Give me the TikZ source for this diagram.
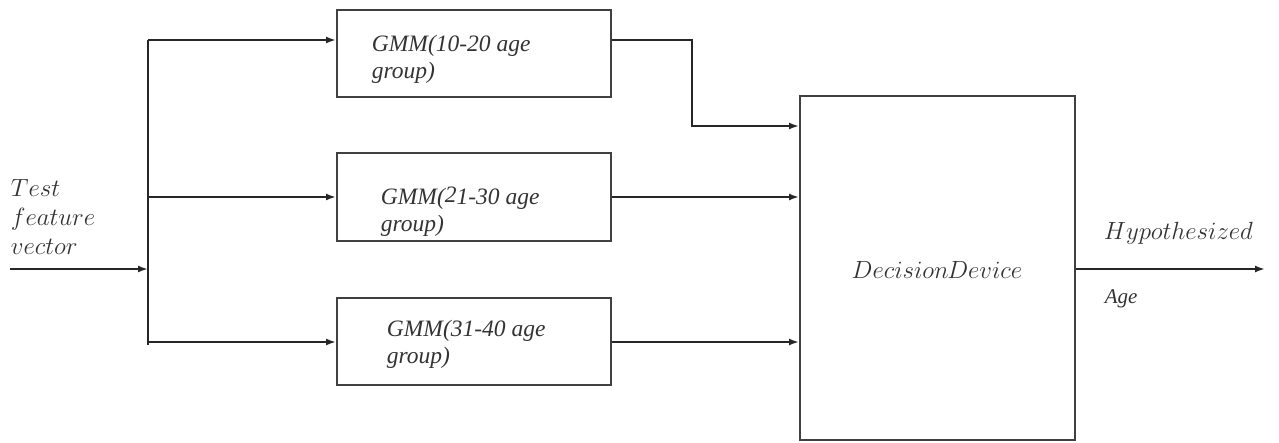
\documentclass[tikz,border=0pt]{standalone}
\usepackage{fontspec}
\newfontfamily\tnr{Liberation Serif}
\usetikzlibrary{arrows.meta}
\begin{document}
\begin{tikzpicture}[x=1pt,y=-1pt,
  line width=1.8pt, draw=black!85,
  blk/.style={draw=black!75,line width=2pt,inner sep=0pt},
  arr/.style={-{Latex[length=10pt,width=7pt]}},
  gmm/.style={font=\tnr\itshape\fontsize{23.5}{27}\selectfont,align=left,anchor=north west,inner sep=0pt,text=black!80},
  mth/.style={font=\fontsize{26}{29}\selectfont,inner sep=0pt,text=black!80}]
\useasboundingbox (0,0) rectangle (1279,443);
% boxes
\node[blk,minimum width=274pt,minimum height=87pt] (g1) at (474,53.5) {};
\node[blk,minimum width=274pt,minimum height=88pt] (g2) at (474,197) {};
\node[blk,minimum width=274pt,minimum height=87pt] (g3) at (474,341.5) {};
\node[blk,minimum width=275pt,minimum height=344pt] (dd) at (937.5,268) {};
% texts
\node[gmm] (t1) at (371,34) {GMM(10-20 age\\group)};
\node[gmm] (t2) at (380,186) {GMM(\raisebox{2pt}{2}1-30 age\\group)};
\node[gmm] (t3) at (386,319) {GMM(31-40 age\\group)};
\node[mth] (td) at (937,270) {$Decision\mkern-1mu Device$};
\node[mth,anchor=west,align=left] (tin) at (10,217) {$Test$\\$feature$\\$vector$};
\node[mth,anchor=west] (th) at (1103,233) {$Hypothesized$};
\node[font=\tnr\itshape\fontsize{21}{24}\selectfont,anchor=west,inner sep=0pt,text=black!80] (ta) at (1104,299) {Age};
% coordinates
\coordinate (in) at (10,269);
\coordinate (bus) at (148,269);
\coordinate (btop) at (148,40);
\coordinate (bmid) at (148,197);
\coordinate (bbot) at (148,345);
\coordinate (out) at (1265,269);
% connectors
\draw[arr] (in) -- (bus);
\draw (btop) -- (bbot);
\draw[arr] (btop) -- (g1.west |- btop);
\draw[arr] (bmid) -- (g2.west);
\draw[arr] (148,342) -- (g3.west |- 0,342);
\draw[arr] (g1.east |- 0,40) -- (692,40) -- (692,126) -- (dd.west |- 0,126);
\draw[arr] (g2.east) -- (dd.west |- g2.east);
\draw[arr] (g3.east |- 0,342) -- (dd.west |- 0,342);
\draw[arr] (dd.east |- out) -- (out);
\end{tikzpicture}
\end{document}
